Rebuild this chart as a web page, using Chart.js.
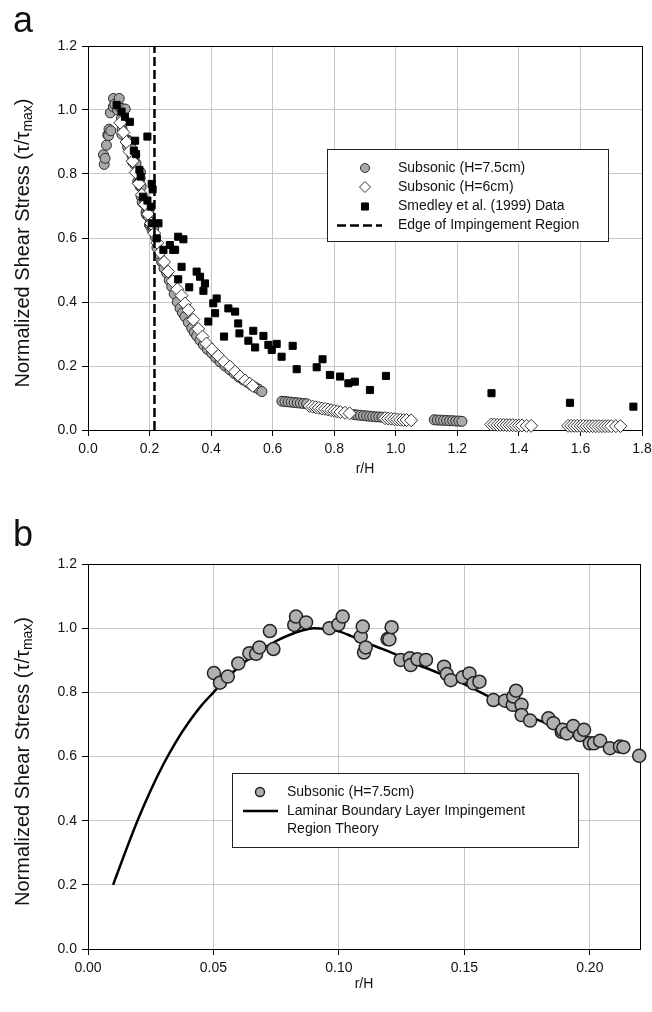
<!DOCTYPE html>
<html>
<head>
<meta charset="utf-8">
<script src="https://cdn.jsdelivr.net/npm/chart.js@4.4.0/dist/chart.umd.min.js"></script>
<style>
body { margin:0; background:#fff; width:652px; height:1012px; position:relative; overflow:hidden; font-family:"Liberation Sans", Arial, sans-serif; }
canvas { position:absolute; left:0; }
#chartA { top:0; }
#chartB { top:510px; }
.panel { position:absolute; left:13px; font-size:36px; line-height:36px; color:#111; }
</style>
</head>
<body>
<canvas id="chartA" width="652" height="505"></canvas>
<canvas id="chartB" width="652" height="502"></canvas>
<div class="panel" style="top:2px">a</div>
<div class="panel" style="top:516px">b</div>
<script>
// Subsonic (H=7.5cm), impingement region (shown in both panels)
const nearX = [0.0502, 0.0526, 0.0557, 0.0599, 0.0643, 0.0670, 0.0683, 0.0725, 0.0739, 0.0822,
  0.0829, 0.0869, 0.0962, 0.0998, 0.1015, 0.1087, 0.1095, 0.1100, 0.1107, 0.1194,
  0.1201, 0.1210, 0.1246, 0.1283, 0.1286, 0.1313, 0.1347, 0.1419, 0.1430, 0.1446,
  0.1493, 0.1520, 0.1536, 0.1560, 0.1616, 0.1662, 0.1693, 0.1695, 0.1706, 0.1728,
  0.1728, 0.1762, 0.1835, 0.1855, 0.1888, 0.1892, 0.1908, 0.1934, 0.1961, 0.1977,
  0.2000, 0.2017, 0.2041, 0.2080, 0.2120, 0.2134, 0.2197];
const nearY = [0.860, 0.830, 0.849, 0.890, 0.922, 0.920, 0.940, 0.991, 0.935, 1.010,
  1.036, 1.018, 1.000, 1.012, 1.036, 0.974, 1.005, 0.924, 0.940, 0.966,
  0.965, 1.003, 0.901, 0.906, 0.885, 0.903, 0.901, 0.880, 0.857, 0.838,
  0.847, 0.859, 0.828, 0.833, 0.776, 0.774, 0.761, 0.787, 0.805, 0.761,
  0.729, 0.712, 0.719, 0.704, 0.677, 0.683, 0.672, 0.695, 0.667, 0.683,
  0.641, 0.641, 0.649, 0.626, 0.631, 0.629, 0.602];

// Subsonic (H=7.5cm), further out (panel a only)
const farX = [0.224, 0.232, 0.239, 0.247, 0.256, 0.264, 0.272, 0.280, 0.290, 0.299,
  0.307, 0.315, 0.326, 0.337, 0.345, 0.353, 0.364, 0.375, 0.388, 0.402,
  0.415, 0.429, 0.445, 0.461, 0.475, 0.490, 0.505, 0.520, 0.532, 0.545,
  0.555, 0.565,
  0.630, 0.640, 0.650, 0.660, 0.670, 0.680, 0.690, 0.700, 0.710,
  0.865, 0.875, 0.885, 0.895, 0.905, 0.915, 0.925, 0.935, 0.945, 0.955,
  1.125, 1.135, 1.145, 1.155, 1.165, 1.175, 1.185, 1.195, 1.205, 1.215];
const farY = [0.570, 0.548, 0.526, 0.505, 0.490, 0.468, 0.448, 0.425, 0.400, 0.380,
  0.366, 0.354, 0.336, 0.318, 0.305, 0.294, 0.280, 0.266, 0.252, 0.240,
  0.226, 0.213, 0.200, 0.188, 0.177, 0.165, 0.156, 0.148, 0.140, 0.133,
  0.127, 0.120,
  0.090, 0.089, 0.088, 0.087, 0.086, 0.085, 0.084, 0.083, 0.082,
  0.048, 0.047, 0.046, 0.045, 0.044, 0.043, 0.042, 0.041, 0.041, 0.040,
  0.032, 0.031, 0.031, 0.030, 0.030, 0.029, 0.029, 0.028, 0.028, 0.027];

// Subsonic (H=6cm)
const h6X = [0.105, 0.115, 0.125, 0.135, 0.145, 0.155, 0.165, 0.175, 0.185, 0.195,
  0.205, 0.215, 0.225, 0.235, 0.247, 0.260, 0.275, 0.290, 0.304, 0.315,
  0.326, 0.342, 0.358, 0.372, 0.385, 0.402, 0.423, 0.442, 0.461, 0.478,
  0.494, 0.510, 0.525, 0.535,
  0.720, 0.730, 0.740, 0.750, 0.760, 0.770, 0.780, 0.790, 0.800, 0.810, 0.820, 0.835, 0.850,
  0.965, 0.975, 0.985, 0.995, 1.005, 1.015, 1.025, 1.035, 1.050,
  1.310, 1.320, 1.330, 1.340, 1.350, 1.360, 1.370, 1.380, 1.390, 1.400, 1.410, 1.425, 1.440,
  1.560, 1.570, 1.580, 1.590, 1.600, 1.610, 1.620, 1.630, 1.640, 1.650, 1.660, 1.670,
  1.680, 1.690, 1.700, 1.715, 1.730];
const h6Y = [0.960, 0.930, 0.900, 0.870, 0.840, 0.805, 0.770, 0.735, 0.705, 0.675,
  0.645, 0.615, 0.585, 0.555, 0.525, 0.495, 0.465, 0.440, 0.420, 0.395,
  0.375, 0.345, 0.316, 0.292, 0.270, 0.252, 0.232, 0.213, 0.198, 0.182,
  0.167, 0.155, 0.145, 0.138,
  0.075, 0.073, 0.071, 0.069, 0.067, 0.066, 0.064, 0.062, 0.060, 0.058, 0.056, 0.054, 0.052,
  0.037, 0.036, 0.035, 0.034, 0.033, 0.032, 0.031, 0.031, 0.030,
  0.017, 0.017, 0.016, 0.016, 0.016, 0.015, 0.015, 0.015, 0.014, 0.014, 0.014, 0.013, 0.013,
  0.013, 0.013, 0.013, 0.013, 0.013, 0.013, 0.012, 0.012, 0.012, 0.012, 0.012, 0.012,
  0.012, 0.012, 0.012, 0.012, 0.012];

// Smedley et al. (1999) Data
const smedX = [0.093, 0.109, 0.120, 0.136, 0.149, 0.153, 0.156, 0.167, 0.171, 0.178,
  0.193, 0.193, 0.204, 0.207, 0.207, 0.210, 0.223, 0.229, 0.245, 0.266,
  0.277, 0.283, 0.293, 0.293, 0.304, 0.310, 0.329, 0.353, 0.364, 0.375,
  0.380, 0.391, 0.407, 0.413, 0.418, 0.442, 0.456, 0.478, 0.488, 0.492,
  0.521, 0.537, 0.543, 0.570, 0.586, 0.597, 0.613, 0.629, 0.665, 0.678,
  0.743, 0.762, 0.786, 0.819, 0.846, 0.867, 0.916, 0.968, 1.311, 1.566, 1.772];
const smedY = [1.016, 0.995, 0.979, 0.963, 0.873, 0.904, 0.862, 0.813, 0.792, 0.729,
  0.917, 0.717, 0.698, 0.769, 0.646, 0.752, 0.599, 0.646, 0.563, 0.578,
  0.563, 0.563, 0.604, 0.471, 0.510, 0.596, 0.446, 0.495, 0.479, 0.435,
  0.458, 0.339, 0.396, 0.365, 0.411, 0.292, 0.380, 0.370, 0.333, 0.302,
  0.279, 0.310, 0.258, 0.294, 0.266, 0.250, 0.269, 0.229, 0.263, 0.190,
  0.196, 0.221, 0.172, 0.167, 0.146, 0.151, 0.125, 0.169, 0.115, 0.085, 0.073];

// Edge of Impingement Region
const edgeX = [0.216, 0.216];
const edgeY = [0, 1.2];

// Laminar Boundary Layer Impingement Region Theory
const theoryX = [0.010, 0.015, 0.020, 0.025, 0.030, 0.035, 0.040, 0.045, 0.050, 0.055,
  0.060, 0.065, 0.070, 0.075, 0.080, 0.085, 0.090, 0.095, 0.100, 0.105,
  0.110, 0.115, 0.120, 0.125, 0.130, 0.135, 0.140, 0.145, 0.150, 0.155,
  0.160, 0.165, 0.170, 0.175, 0.180, 0.185, 0.190, 0.195, 0.200, 0.205,
  0.210, 0.214];
const theoryY = [0.200, 0.305, 0.405, 0.495, 0.575, 0.645, 0.705, 0.757, 0.800, 0.842,
  0.878, 0.910, 0.937, 0.960, 0.978, 0.992, 1.000, 0.997, 0.990, 0.975,
  0.958, 0.942, 0.927, 0.910, 0.890, 0.875, 0.859, 0.842, 0.826, 0.806,
  0.786, 0.765, 0.745, 0.728, 0.712, 0.697, 0.683, 0.670, 0.657, 0.644,
  0.631, 0.622];

const xTicksA = [0, 0.2, 0.4, 0.6, 0.8, 1.0, 1.2, 1.4, 1.6, 1.8];
const xTicksB = [0, 0.05, 0.10, 0.15, 0.20];
const yTicks = [0, 0.2, 0.4, 0.6, 0.8, 1.0, 1.2];

function zip(xs, ys) {
  return xs.map((x, i) => ({ x: x, y: ys[i] }));
}

const FONT = '"Liberation Sans", Arial, sans-serif';

// black box around the plot area
const frame = {
  id: 'frame',
  beforeDatasetsDraw(chart) {
    const { ctx, chartArea: a } = chart;
    ctx.save();
    ctx.strokeStyle = '#000';
    ctx.lineWidth = 1;
    ctx.strokeRect(Math.round(a.left) + 0.5, Math.round(a.top) + 0.5,
      Math.round(a.right - a.left), Math.round(a.bottom - a.top));
    ctx.restore();
  }
};

// rotated y title with subscript "max"
const yTitle = {
  id: 'yTitle',
  afterDraw(chart) {
    const { ctx, chartArea: a } = chart;
    const main = 'Normalized Shear Stress (\u03c4/\u03c4', sub = 'max', end = ')';
    const big = '20px ' + FONT, small = '14px ' + FONT;
    ctx.save();
    ctx.translate(23, (a.top + a.bottom) / 2 + 5);
    ctx.rotate(-Math.PI / 2);
    ctx.fillStyle = '#111';
    ctx.textBaseline = 'middle';
    ctx.textAlign = 'left';
    ctx.font = big;
    const w1 = ctx.measureText(main).width, w3 = ctx.measureText(end).width;
    ctx.font = small;
    const w2 = ctx.measureText(sub).width;
    let x = -(w1 + w2 + w3) / 2;
    ctx.font = big; ctx.fillText(main, x, 0); x += w1;
    ctx.font = small; ctx.fillText(sub, x, 5); x += w2;
    ctx.font = big; ctx.fillText(end, x, 0);
    ctx.restore();
  }
};

// boxed legend drawn inside the plot
const boxLegend = {
  id: 'boxLegend',
  afterDraw(chart, args, opts) {
    if (!opts.box) return;
    const ctx = chart.ctx;
    const [bx, by, bw, bh] = opts.box;
    ctx.save();
    ctx.fillStyle = '#fff';
    ctx.fillRect(bx, by, bw, bh);
    ctx.strokeStyle = '#222';
    ctx.lineWidth = 1;
    ctx.strokeRect(bx + 0.5, by + 0.5, bw, bh);
    ctx.font = '14px ' + FONT;
    ctx.textBaseline = 'middle';
    opts.items.forEach(it => {
      const ds = chart.data.datasets[it.ds];
      if (it.line) {
        ctx.strokeStyle = ds.borderColor;
        ctx.lineWidth = ds.borderWidth;
        ctx.setLineDash(ds.borderDash || []);
        ctx.beginPath();
        ctx.moveTo(it.line[0], it.y);
        ctx.lineTo(it.line[1], it.y);
        ctx.stroke();
        ctx.setLineDash([]);
      } else {
        ctx.fillStyle = ds.backgroundColor;
        ctx.strokeStyle = ds.borderColor;
        ctx.lineWidth = ds.borderWidth;
        Chart.helpers.drawPoint(ctx, { pointStyle: ds.pointStyle, radius: it.r, rotation: 0, borderWidth: ds.borderWidth }, opts.markerX, it.y);
      }
      ctx.fillStyle = '#111';
      const lines = it.text || [ds.label];
      lines.forEach((t, k) => ctx.fillText(t, opts.textX, it.y + k * 18.5));
    });
    ctx.restore();
  }
};

function axes(xTicks, xDigits, xMax, xHeight, titlePad) {
  return {
    x: {
      type: 'linear', min: 0, max: xMax,
      afterBuildTicks: s => { s.ticks = xTicks.map(v => ({ value: v })); },
      afterFit: s => { s.height = xHeight; s.paddingLeft = 0; s.paddingRight = 0; },
      grid: { color: '#c6c6c6', tickColor: '#000', tickLength: 6, lineWidth: 1 },
      border: { color: '#000', width: 1 },
      ticks: { font: { size: 14, family: FONT }, color: '#111', padding: 5, maxRotation: 0,
        callback: v => Number(v).toFixed(xDigits) },
      title: { display: true, text: 'r/H', font: { size: 14, family: FONT }, color: '#111',
        padding: { top: 0, bottom: titlePad } }
    },
    y: {
      type: 'linear', min: 0, max: 1.2,
      afterBuildTicks: s => { s.ticks = yTicks.map(v => ({ value: v })); },
      afterFit: s => { s.width = 88; s.paddingTop = 0; s.paddingBottom = 0; },
      grid: { color: '#c6c6c6', tickColor: '#000', tickLength: 6, lineWidth: 1 },
      border: { color: '#000', width: 1 },
      ticks: { font: { size: 14, family: FONT }, color: '#111', padding: 5,
        callback: v => Number(v).toFixed(1) }
    }
  };
}

new Chart(document.getElementById('chartA'), {
  type: 'scatter',
  data: {
    datasets: [
      { label: 'Subsonic (H=7.5cm)', data: zip(nearX.concat(farX), nearY.concat(farY)),
        pointStyle: 'circle', pointRadius: 5, backgroundColor: '#a8a8a8', borderColor: '#2a2a2a', borderWidth: 1, order: 3 },
      { label: 'Subsonic (H=6cm)', data: zip(h6X, h6Y),
        pointStyle: 'rectRot', pointRadius: 6.5, backgroundColor: '#ffffff', borderColor: '#333', borderWidth: 1, order: 2 },
      { label: 'Smedley et al. (1999) Data', data: zip(smedX, smedY),
        pointStyle: 'rect', pointRadius: 5, backgroundColor: '#000', borderColor: '#000', borderWidth: 1, order: 1 },
      { type: 'line', label: 'Edge of Impingement Region', data: zip(edgeX, edgeY),
        borderColor: '#000', borderWidth: 2.5, borderDash: [9, 4], pointRadius: 0, showLine: true, order: 0 }
    ]
  },
  options: {
    responsive: false, animation: false, clip: false,
    layout: { padding: { left: 0, top: 46, right: 10, bottom: 0 } },
    plugins: {
      legend: { display: false }, tooltip: { enabled: false },
      boxLegend: {
        box: [327, 149, 281, 92], markerX: 365, textX: 398,
        items: [ { ds: 0, y: 168, r: 4.5 }, { ds: 1, y: 187, r: 5.5 }, { ds: 2, y: 206.5, r: 5 },
                 { ds: 3, y: 225.5, line: [337, 382] } ]
      }
    },
    scales: axes(xTicksA, 1, 1.8, 75, 27)
  },
  plugins: [frame, yTitle, boxLegend]
});

new Chart(document.getElementById('chartB'), {
  type: 'scatter',
  data: {
    datasets: [
      { label: 'Subsonic (H=7.5cm)', data: zip(nearX, nearY),
        pointStyle: 'circle', pointRadius: 6.5, backgroundColor: '#b0b0b0', borderColor: '#222', borderWidth: 1.5, order: 0 },
      { type: 'line', label: 'Laminar Boundary Layer Impingement Region Theory', data: zip(theoryX, theoryY),
        borderColor: '#000', borderWidth: 2.5, pointRadius: 0, showLine: true, tension: 0.4,
        cubicInterpolationMode: 'monotone', order: 1 }
    ]
  },
  options: {
    responsive: false, animation: false, clip: false,
    layout: { padding: { left: 0, top: 54, right: 12, bottom: 0 } },
    plugins: {
      legend: { display: false }, tooltip: { enabled: false },
      boxLegend: {
        box: [232, 263, 346, 74], markerX: 260, textX: 287,
        items: [ { ds: 0, y: 282, r: 4.5 },
                 { ds: 1, y: 301, line: [243, 278], text: ['Laminar Boundary Layer Impingement', 'Region Theory'] } ]
      }
    },
    scales: axes(xTicksB, 2, 0.22, 63, 19)
  },
  plugins: [frame, yTitle, boxLegend]
});
</script>
</body>
</html>
